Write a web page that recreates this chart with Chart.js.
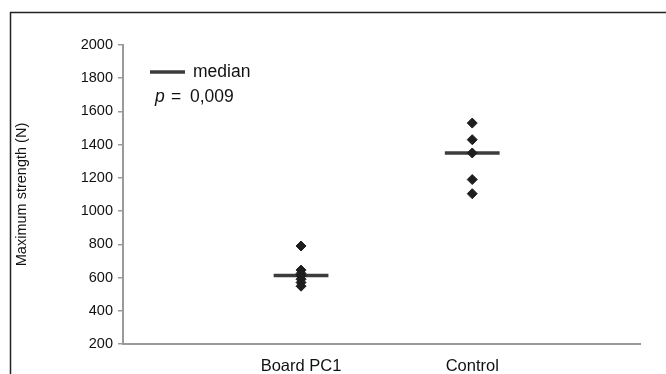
<!DOCTYPE html>
<html>
<head>
<meta charset="utf-8">
<script src="https://cdn.jsdelivr.net/npm/chart.js@4"></script>
<style>
  html, body { margin: 0; padding: 0; background: #fff; }
  #wrap { width: 666px; height: 374px; position: relative; }
</style>
</head>
<body>
<div id="wrap"><canvas id="c" width="666" height="374"></canvas></div>
<script>
// ---- data ----
const categories = ["Board PC1", "Control"];
const groupX = [1.02, 2.02];
const boardPC1Values = [790, 645, 625, 610, 590, 570, 548];
const controlValues = [1530, 1430, 1350, 1190, 1105];
const medians = [612, 1350];
const yTicks = [200, 400, 600, 800, 1000, 1200, 1400, 1600, 1800, 2000];
const legendLabel = "median";
const pValueText = "0,009";

const FONT = "'Liberation Sans', Arial, Helvetica, sans-serif";
const markColor = "#1e1e1e";
const medianColor = "#3c3c3c";
const axisColor = "#9a9a9a";
const halfWidth = 0.16;

function pts(x, vals) { return vals.map(v => ({ x: x, y: v })); }
function medianLine(i) {
  return [{ x: groupX[i] - halfWidth, y: medians[i] }, { x: groupX[i] + halfWidth, y: medians[i] }];
}

const framePlugin = {
  id: 'frame',
  beforeDraw(chart) {
    const ctx = chart.ctx;
    ctx.save();
    ctx.strokeStyle = '#222';
    ctx.lineWidth = 1.5;
    ctx.beginPath();
    ctx.moveTo(10, 12.5); ctx.lineTo(666, 12.5);
    ctx.moveTo(10.5, 12); ctx.lineTo(10.5, 374);
    ctx.stroke();
    ctx.restore();
  }
};

const legendPlugin = {
  id: 'customLegend',
  afterDraw(chart) {
    const ctx = chart.ctx;
    ctx.save();
    ctx.strokeStyle = medianColor;
    ctx.lineWidth = 3.5;
    ctx.beginPath();
    ctx.moveTo(150, 72); ctx.lineTo(185, 72);
    ctx.stroke();
    ctx.fillStyle = '#111';
    ctx.textBaseline = 'middle';
    ctx.font = "17.5px " + FONT;
    ctx.fillText(legendLabel, 193, 72);
    ctx.font = "italic 17.5px " + FONT;
    ctx.fillText("p", 155, 97);
    ctx.font = "17.5px " + FONT;
    ctx.fillText("=", 171, 97);
    ctx.fillText(pValueText, 190, 97);
    ctx.restore();
  }
};

const ctx = document.getElementById('c').getContext('2d');
new Chart(ctx, {
  type: 'scatter',
  data: {
    datasets: [
      { label: categories[0], data: pts(groupX[0], boardPC1Values), backgroundColor: markColor, borderColor: markColor,
        pointStyle: 'rectRot', pointRadius: 5, borderWidth: 1, order: 1 },
      { label: categories[1], data: pts(groupX[1], controlValues), backgroundColor: markColor, borderColor: markColor,
        pointStyle: 'rectRot', pointRadius: 5, borderWidth: 1, order: 1 },
      { type: 'line', label: legendLabel, data: medianLine(0), borderColor: medianColor, borderWidth: 3.5,
        pointRadius: 0, showLine: true, fill: false, order: 2 },
      { type: 'line', label: legendLabel + ' 2', data: medianLine(1), borderColor: medianColor, borderWidth: 3.5,
        pointRadius: 0, showLine: true, fill: false, order: 2 }
    ]
  },
  options: {
    responsive: false,
    animation: false,
    devicePixelRatio: 1,
    layout: { padding: { left: 0, right: 26, top: 45, bottom: 0 } },
    plugins: { legend: { display: false }, tooltip: { enabled: false } },
    scales: {
      x: {
        type: 'linear', min: -0.02, max: 3,
        grid: { display: false, drawTicks: false },
        border: { display: true, color: axisColor, width: 2 },
        afterBuildTicks(scale) { scale.ticks = groupX.map(v => ({ value: v })); },
        afterFit(scale) { scale.height = 30; },
        ticks: {
          padding: 13,
          color: '#111',
          font: { family: FONT, size: 16.5 },
          callback(value) { const i = groupX.indexOf(value); return i >= 0 ? categories[i] : ''; }
        }
      },
      y: {
        type: 'linear', min: 200, max: 2000,
        afterBuildTicks(scale) { scale.ticks = yTicks.map(v => ({ value: v })); },
        afterFit(scale) { scale.width = 123; },
        grid: { drawOnChartArea: false, drawTicks: true, tickLength: 5, color: axisColor, lineWidth: 1.5 },
        border: { display: true, color: axisColor, width: 2 },
        ticks: { padding: 5, color: '#111', font: { family: FONT, size: 14.5 },
                 callback(value) { return String(value); } },
        title: { display: true, text: 'Maximum strength (N)', color: '#111',
                 font: { family: FONT, size: 14.5 }, padding: { top: 13, bottom: 0 } }
      }
    }
  },
  plugins: [framePlugin, legendPlugin]
});
</script>
</body>
</html>
